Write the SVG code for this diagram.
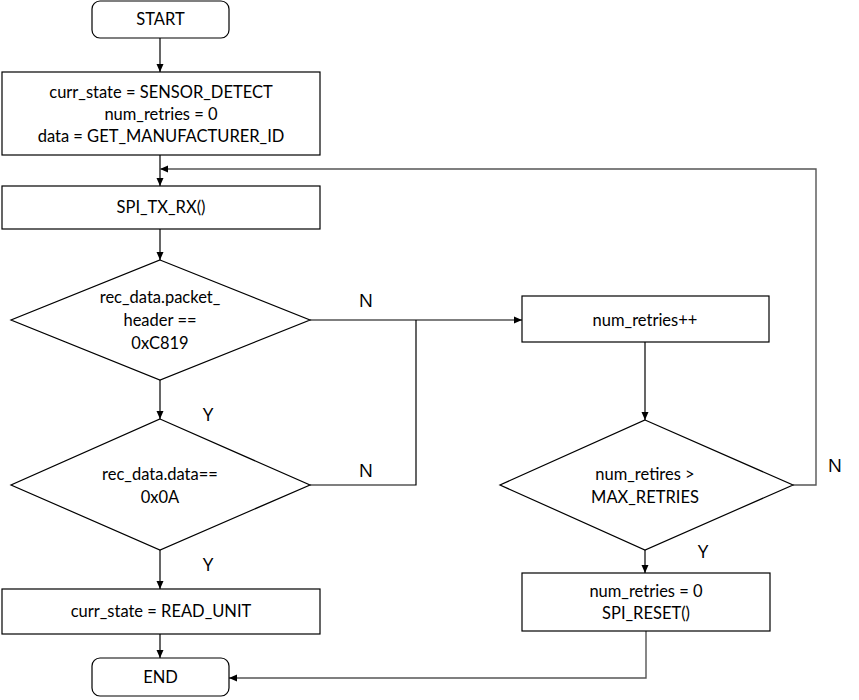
<svg xmlns="http://www.w3.org/2000/svg" width="859" height="700" viewBox="0 0 859 700">
<defs>
<marker id="ah" markerWidth="8" markerHeight="8" refX="8" refY="4" orient="auto" markerUnits="userSpaceOnUse">
<path d="M0,0.5 L8,4 L0,7.5 Z" fill="#000"/>
</marker>
<style>
.n{fill:#fff;stroke:#000;stroke-width:1.2}
.t{font-family:Lato,"Open Sans","Liberation Sans",sans-serif;font-size:16.5px;fill:#000;text-anchor:middle;dominant-baseline:central}
.l{font-family:"Open Sans","Liberation Sans",sans-serif;font-size:19px;fill:#000;text-anchor:middle;dominant-baseline:central}
.c{fill:none;stroke:#000;stroke-width:1.2}
.g{fill:none;stroke:#555;stroke-width:1.4}
</style>
</defs>
<rect width="859" height="700" fill="#fff"/>
<g id="connectors">
<line class="c" x1="160" y1="38" x2="160" y2="72" marker-end="url(#ah)"/>
<line class="c" x1="160" y1="155" x2="160" y2="186" marker-end="url(#ah)"/>
<line class="c" x1="160" y1="229" x2="160" y2="260" marker-end="url(#ah)"/>
<line class="c" x1="160" y1="380" x2="160" y2="419" marker-end="url(#ah)"/>
<line class="c" x1="160" y1="550" x2="160" y2="589" marker-end="url(#ah)"/>
<line class="c" x1="160" y1="634" x2="160" y2="658" marker-end="url(#ah)"/>
<polyline class="c" points="310,320 522,320" marker-end="url(#ah)"/>
<polyline class="c" points="310,485 416,485 416,320"/>
<line class="c" x1="645" y1="342" x2="645" y2="420" marker-end="url(#ah)"/>
<line class="c" x1="645" y1="550" x2="645" y2="573" marker-end="url(#ah)"/>
<polyline class="g" points="793,485 816,485 816,169 160,169" marker-end="url(#ah)"/>
<polyline class="g" points="646,631 646,678 229,678" marker-end="url(#ah)"/>
<text class="l" x="366" y="300">N</text>
<text class="l" x="366" y="470">N</text>
<text class="l" x="208" y="414">Y</text>
<text class="l" x="208" y="564">Y</text>
<text class="l" x="835" y="465">N</text>
<text class="l" x="703" y="551">Y</text>
</g>
<g id="start">
<rect class="n" x="92" y="1" width="137" height="37" rx="8"/>
<text class="t" x="160.5" y="19">START</text>
</g>
<g id="init">
<rect class="n" x="2" y="72" width="318" height="83"/>
<text class="t" x="161" y="92">curr_state = SENSOR_DETECT</text>
<text class="t" x="161" y="114">num_retries = 0</text>
<text class="t" x="161" y="136">data = GET_MANUFACTURER_ID</text>
</g>
<g id="spi_tx_rx">
<rect class="n" x="2" y="186" width="318" height="43"/>
<text class="t" x="161" y="207">SPI_TX_RX()</text>
</g>
<g id="check_header">
<polygon class="n" points="160,260 310,320 160,380 11,320"/>
<text class="t" x="160" y="297">rec_data.packet_</text>
<text class="t" x="160" y="320">header ==</text>
<text class="t" x="160" y="343">0xC819</text>
</g>
<g id="check_data">
<polygon class="n" points="160,419 310,485 160,550 11,485"/>
<text class="t" x="160" y="474">rec_data.data==</text>
<text class="t" x="160" y="497">0x0A</text>
</g>
<g id="read_unit">
<rect class="n" x="2" y="589" width="318" height="45"/>
<text class="t" x="161" y="611">curr_state = READ_UNIT</text>
</g>
<g id="end">
<rect class="n" x="92" y="658" width="137" height="38" rx="8"/>
<text class="t" x="160.5" y="677">END</text>
</g>
<g id="inc_retries">
<rect class="n" x="522" y="296" width="247" height="46"/>
<text class="t" x="645" y="320">num_retries++</text>
</g>
<g id="check_retries">
<polygon class="n" points="645,420 793,485 645,550 500,485"/>
<text class="t" x="645" y="474">num_retires &gt;</text>
<text class="t" x="645" y="497">MAX_RETRIES</text>
</g>
<g id="reset">
<rect class="n" x="522" y="573" width="248" height="58"/>
<text class="t" x="646" y="591">num_retries = 0</text>
<text class="t" x="646" y="613">SPI_RESET()</text>
</g>
</svg>
